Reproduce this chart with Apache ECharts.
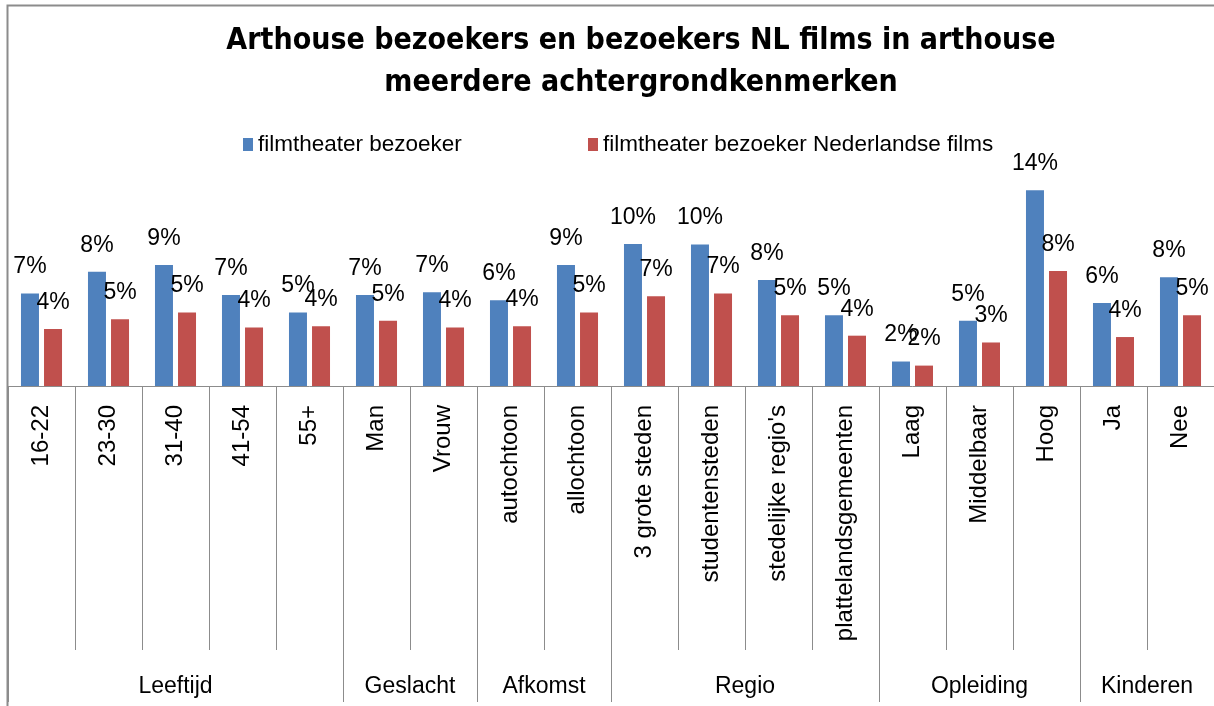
<!DOCTYPE html>
<html>
<head>
<meta charset="utf-8">
<title>Arthouse bezoekers</title>
<script src="https://cdn.jsdelivr.net/npm/echarts@6/dist/echarts.min.js"></script>
<style>
    html, body {margin: 0; padding: 0; background: #fff;}
    #chartBox {width: 1214px; height: 706px;}
</style>
</head>
<body>
<div id="chartBox"></div>
<script>
// categorieen (onderste niveau) en de groepen eromheen
var categories = ['16-22', '23-30', '31-40', '41-54', '55+', 'Man', 'Vrouw', 'autochtoon', 'allochtoon',
    '3 grote steden', 'studentensteden', "stedelijke regio's", 'plattelandsgemeenten',
    'Laag', 'Middelbaar', 'Hoog', 'Ja', 'Nee'];
var groupNames = ['Leeftijd', 'Geslacht', 'Afkomst', 'Regio', 'Opleiding', 'Kinderen'];
var groupSizes = [5, 2, 2, 4, 3, 2];

var seriesNames = ['filmtheater bezoeker', 'filmtheater bezoeker Nederlandse films'];
var bezoeker = [6.8, 8.4, 8.9, 6.7, 5.4, 6.7, 6.9, 6.3, 8.9, 10.45, 10.4, 7.8, 5.2, 1.8, 4.8, 14.4, 6.1, 8.0];
var nlFilms = [4.2, 4.9, 5.4, 4.3, 4.4, 4.8, 4.3, 4.4, 5.4, 6.6, 6.8, 5.2, 3.7, 1.5, 3.2, 8.45, 3.6, 5.2];

var font = "'Liberation Sans', Arial, sans-serif";
var grey = '#8c8c8c';

// grenzen en middens van de groepen op de tweede as
var bounds = [0];
var mids = [];
for (var i = 0; i < groupSizes.length; i++) {
    mids.push(bounds[i] + groupSizes[i] / 2);
    bounds.push(bounds[i] + groupSizes[i]);
}

function pct(p) {
    return Math.round(p.value) + '%';
}

var myChart = echarts.init(document.getElementById('chartBox'));
var option = {
    animation: false,
    color: ['#4F81BD', '#C0504D'],
    title: {
        text: 'Arthouse bezoekers en bezoekers NL films in arthouse\nmeerdere achtergrondkenmerken',
        left: 636,
        top: 15,
        textAlign: 'center',
        textStyle: {
            fontFamily: "'Liberation Sans Narrow', 'DejaVu Sans Condensed', 'Liberation Sans', sans-serif",
            fontWeight: 'bold',
            fontSize: 30,
            lineHeight: 42,
            color: '#000'
        }
    },
    legend: [
        {
            data: [seriesNames[0]],
            left: 238, top: 128,
            icon: 'rect', itemWidth: 10, itemHeight: 13,
            textStyle: {fontFamily: font, fontSize: 22.5, color: '#000'}
        },
        {
            data: [seriesNames[1]],
            left: 583, top: 128,
            icon: 'rect', itemWidth: 10, itemHeight: 13,
            textStyle: {fontFamily: font, fontSize: 22.5, color: '#000'}
        }
    ],
    grid: {left: 8, right: 0, top: 114, bottom: 320},
    xAxis: [
        {
            type: 'category',
            data: categories,
            axisLine: {lineStyle: {color: grey, width: 1}},
            axisTick: {show: true, interval: 0, length: 264, lineStyle: {color: grey}},
            axisLabel: {
                interval: 0, rotate: 90, margin: 19,
                fontFamily: font, fontSize: 24, color: '#000'
            }
        },
        {
            type: 'value',
            position: 'bottom',
            min: 0,
            max: categories.length,
            axisLine: {show: false},
            splitLine: {show: false},
            axisTick: {show: true, length: 316, customValues: bounds, lineStyle: {color: grey}},
            axisLabel: {
                customValues: mids,
                margin: 289,
                fontFamily: font, fontSize: 23, color: '#000',
                formatter: function (v) {
                    return groupNames[mids.indexOf(v)];
                }
            }
        }
    ],
    yAxis: {type: 'value', min: 0, max: 20, show: false},
    graphic: [
        {
            type: 'rect',
            shape: {x: 7.5, y: 5.5, width: 1300, height: 800},
            style: {fill: 'none', stroke: grey, lineWidth: 2},
            silent: true
        }
    ],
    series: [
        {
            name: seriesNames[0],
            type: 'bar',
            data: bezoeker,
            barWidth: 18,
            barGap: '28%',
            label: {show: true, position: 'top', distance: 15, formatter: pct,
                fontFamily: font, fontSize: 23, color: '#000'}
        },
        {
            name: seriesNames[1],
            type: 'bar',
            data: nlFilms,
            barWidth: 18,
            label: {show: true, position: 'top', distance: 15, formatter: pct,
                fontFamily: font, fontSize: 23, color: '#000'}
        }
    ]
};
myChart.setOption(option);
</script>
</body>
</html>
